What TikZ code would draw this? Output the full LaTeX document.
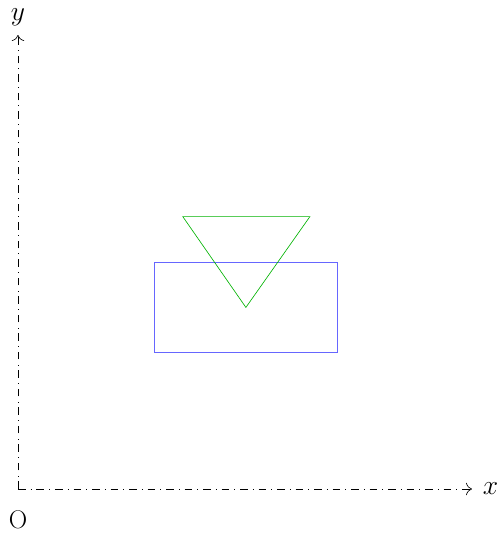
\documentclass[tikz,border=0pt]{standalone}
\usetikzlibrary{arrows.meta}
\begin{document}
\begin{tikzpicture}[>={To[scale=1.5]}, axis/.style={->, dash pattern=on 4.8pt off 3.2pt on 0.4pt off 3.2pt}, every node/.style={inner sep=1pt, font=\fontsize{16}{19}\selectfont}]
        \useasboundingbox (-0.396,-0.969) rectangle (10.573,10.771);
        \coordinate (O) at (0,0);
        \coordinate (xend) at (10,0);
        \coordinate (yend) at (0,10);
        \draw[axis] (O) -- (xend);
        \draw[axis] (O) -- (yend);
        \node[right=2mm] (xlab) at (xend) {$x$};
        \node[above=1.5mm] (ylab) at (yend) {$y$};
        \node[below=4.3mm] (olab) at (O) {O};
        \draw[blue!60] (3,3) rectangle (7.04,5);
        \draw[green!70!black] (3.63,6) -- (6.43,6) -- (5.02,4) -- cycle;
    \end{tikzpicture}
\end{document}
